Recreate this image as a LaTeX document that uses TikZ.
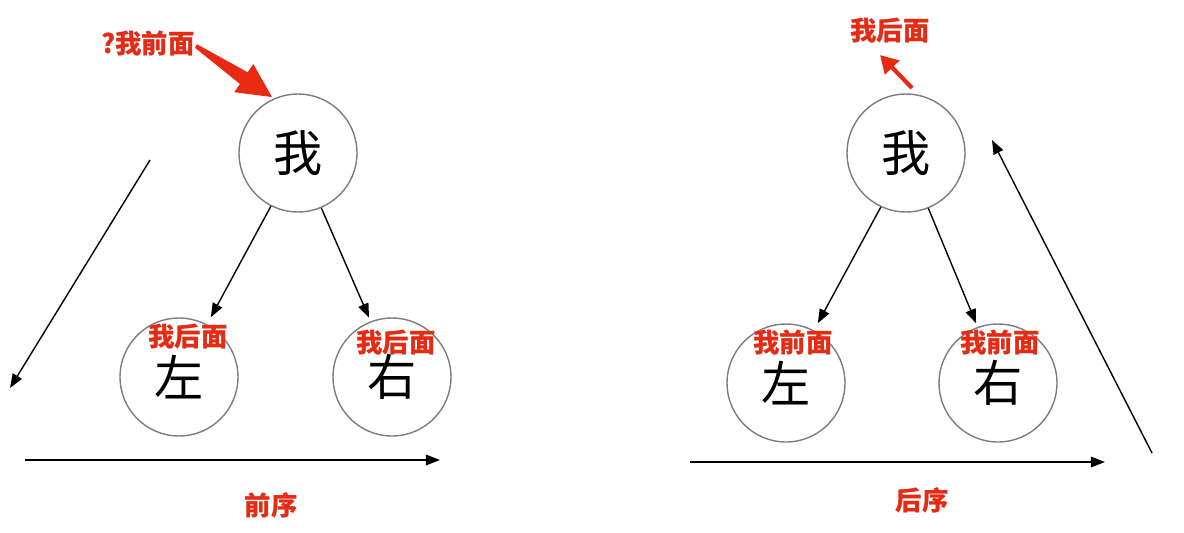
\documentclass[tikz,border=0pt]{standalone}
\usepackage{fontspec}
\newfontfamily\cjk{Noto Sans CJK SC}
\usetikzlibrary{arrows.meta,calc}
\definecolor{tagred}{RGB}{232,42,18}
\definecolor{ringgray}{RGB}{125,125,125}
\tikzset{
  ring/.style={circle,draw=ringgray,line width=0.8pt,minimum size=2.36cm,inner sep=0pt,font=\cjk\fontsize{28}{30}\selectfont},
  link/.style={line width=0.8pt,-{Triangle[length=8pt,width=6pt]}},
  tag/.style={font=\cjk\bfseries\fontsize{15}{17}\selectfont,text=tagred,inner sep=0pt},
  tagshadow/.style={font=\cjk\bfseries\fontsize{15}{17}\selectfont,text=black!25,inner sep=0pt},
}
\newcommand{\redtag}[3]{%
  \node[tagshadow] at ($(#1)+(0.03,-0.04)$) {#3};
  \node[tag] (#2) at (#1) {#3};}
\begin{document}
\begin{tikzpicture}[x=0.02cm,y=-0.02cm]
\useasboundingbox (0,0) rectangle (1184,532);
% left tree
\node[ring] (me1) at (298,153) {我};
\node[ring] (l1) at (179,377) {左};
\node[ring] (r1) at (392,377) {右};
\draw[link,shorten >=0.16cm] (me1.243) -- (l1.62);
\draw[link,shorten >=0.08cm] (me1.293.6) -- (r1.111);
% right tree
\node[ring] (me2) at (906,153) {我};
\node[ring] (l2) at (786,383) {左};
\node[ring] (r2) at (998,383) {右};
\draw[link,shorten >=0.16cm] (me2.245.5) -- (l2.62);
\draw[link,shorten >=0.08cm] (me2.292.8) -- (r2.110.5);
% long arrows
\coordinate (a1s) at (150,160); \coordinate (a1e) at (10,388);
\coordinate (a2s) at (25,460); \coordinate (a2e) at (440,460);
\coordinate (a3s) at (690,462); \coordinate (a3e) at (1105,462);
\coordinate (a4s) at (1152,453); \coordinate (a4e) at (992,140);
\draw[link] (a1s) -- (a1e);
\draw[link] (a2s) -- (a2e);
\draw[link] (a3s) -- (a3e);
\draw[link] (a4s) -- (a4e);
% red arrows
\fill[tagred] (194.9,47.7) -- (239.9,83.9) -- (234.3,92.2) -- (272,97) -- (253.3,64.0) -- (247.7,72.3) -- (197.1,44.3) -- cycle;
\coordinate (b1s) at (912,88); \coordinate (b1e) at (880,55);
\draw[tagred,line width=2.4pt,-{Triangle[length=10pt,width=11pt]}] (b1s) -- (b1e);
% labels
\redtag{148,44}{t1}{?我前面}
\redtag{890,31}{t2}{我后面}
\redtag{188,337}{t3}{我后面}
\redtag{396,343}{t4}{我后面}
\redtag{793,343}{t5}{我前面}
\redtag{1000,343}{t6}{我前面}
\redtag{271,505}{t7}{前序}
\redtag{922,500}{t8}{后序}
\end{tikzpicture}
\end{document}
